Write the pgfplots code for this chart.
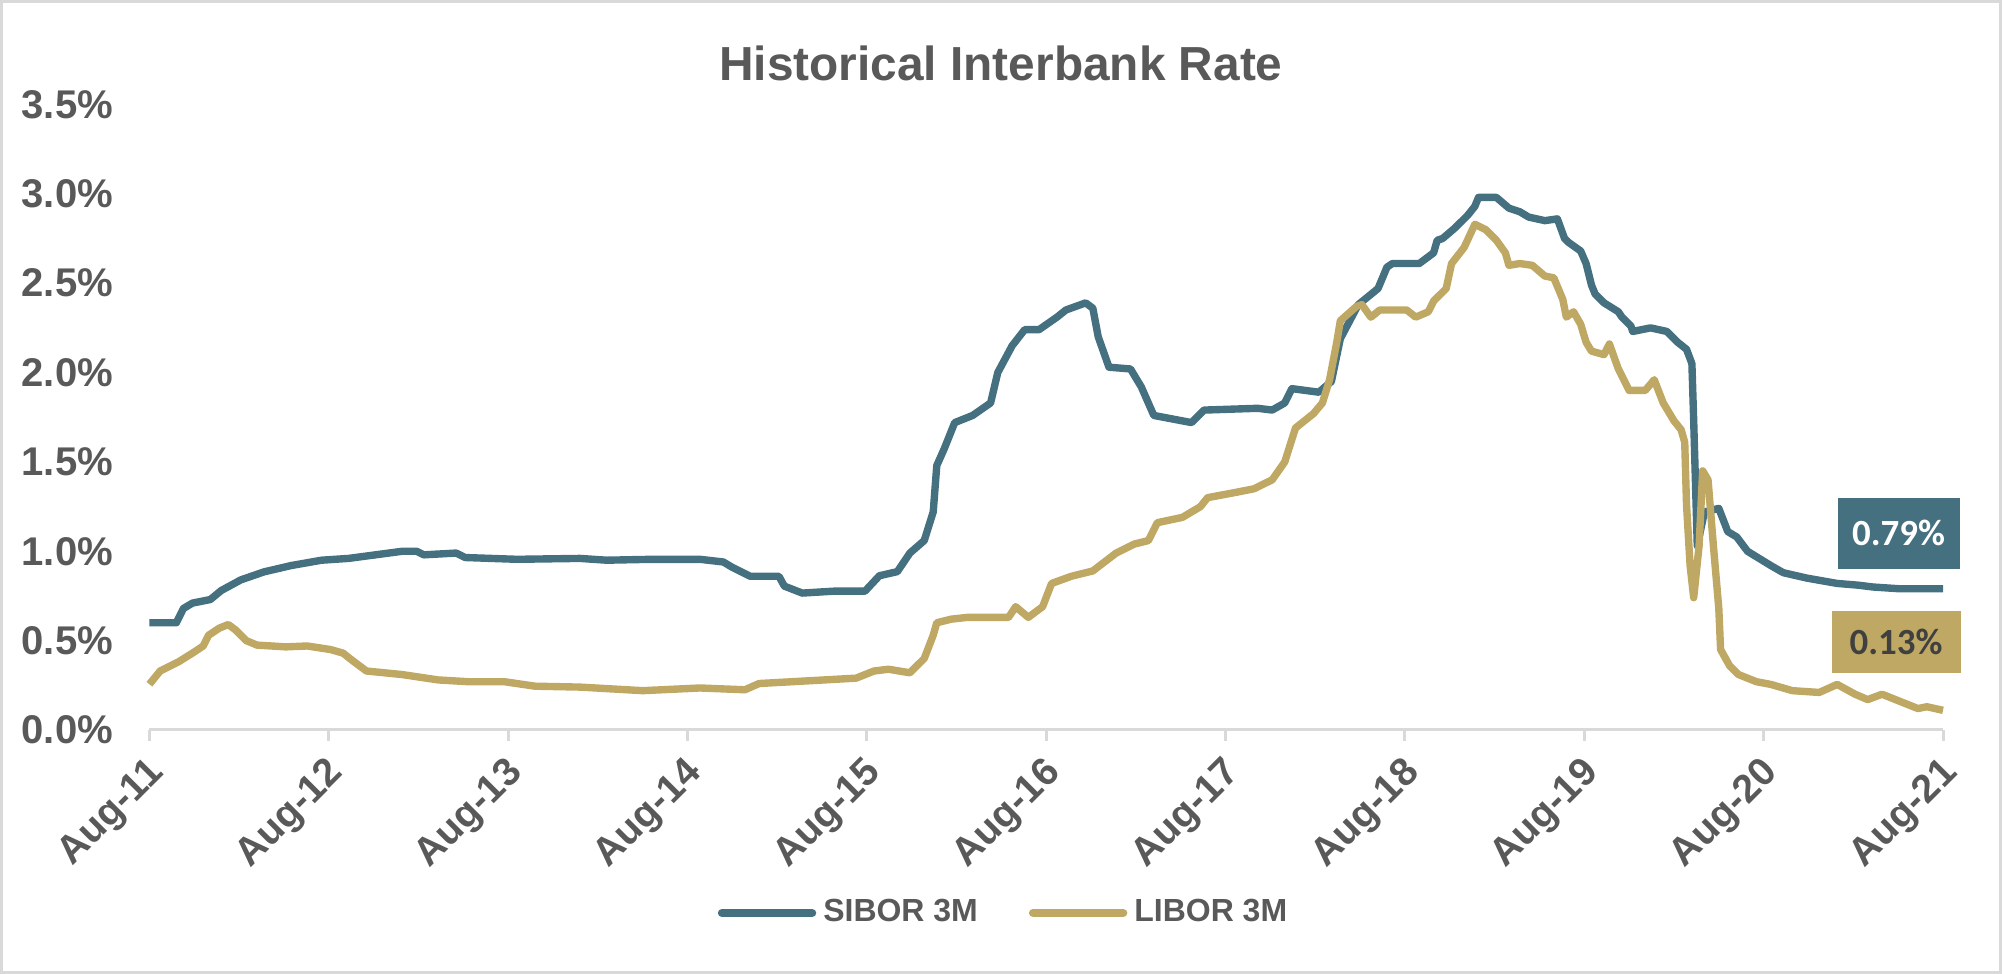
\documentclass[border=0pt]{standalone}
\usepackage{pgfplots}
\pgfplotsset{compat=1.18}
\usepackage{fontspec}
\setmainfont{Liberation Sans}
\newfontfamily\carlito{Carlito}
\definecolor{sibor}{RGB}{68,112,128}
\definecolor{libor}{RGB}{191,168,99}
\definecolor{txtgray}{RGB}{89,89,89}
\definecolor{axgray}{RGB}{217,217,217}
\definecolor{darktxt}{RGB}{64,64,64}

\pgfplotstableread{
t v
0 0.60
0.15 0.60
0.19 0.68
0.24 0.71
0.34 0.73
0.40 0.78
0.51 0.84
0.64 0.885
0.79 0.92
0.96 0.95
1.11 0.96
1.26 0.98
1.41 1.00
1.49 1.00
1.53 0.98
1.71 0.99
1.76 0.965
2.05 0.955
2.40 0.96
2.55 0.95
2.80 0.955
3.07 0.955
3.20 0.94
3.25 0.91
3.35 0.86
3.51 0.86
3.54 0.805
3.64 0.766
3.82 0.777
3.99 0.777
4.07 0.863
4.17 0.886
4.24 0.99
4.32 1.06
4.37 1.22
4.39 1.48
4.43 1.57
4.49 1.72
4.59 1.76
4.69 1.83
4.73 2.00
4.81 2.15
4.88 2.24
4.96 2.24
5.06 2.31
5.11 2.35
5.22 2.39
5.26 2.36
5.29 2.20
5.35 2.03
5.47 2.02
5.53 1.92
5.60 1.76
5.81 1.72
5.88 1.79
6.18 1.80
6.26 1.79
6.33 1.83
6.37 1.91
6.52 1.89
6.59 1.95
6.64 2.19
6.74 2.38
6.85 2.47
6.90 2.59
6.93 2.61
7.08 2.61
7.16 2.67
7.18 2.74
7.21 2.75
7.28 2.81
7.35 2.88
7.39 2.93
7.41 2.98
7.51 2.98
7.58 2.92
7.64 2.90
7.69 2.87
7.78 2.85
7.85 2.86
7.89 2.75
7.91 2.73
7.98 2.68
8.01 2.61
8.04 2.49
8.06 2.44
8.11 2.39
8.19 2.34
8.21 2.31
8.26 2.26
8.27 2.23
8.37 2.25
8.46 2.23
8.52 2.17
8.57 2.13
8.60 2.05
8.61 1.73
8.62 1.38
8.63 1.03
8.67 1.22
8.75 1.24
8.80 1.11
8.85 1.08
8.91 1.00
9.04 0.92
9.11 0.88
9.24 0.85
9.41 0.82
9.53 0.81
9.61 0.80
9.76 0.79
10.0 0.79
}\sibortable

\pgfplotstableread{
t v
0 0.256
0.06 0.33
0.16 0.38
0.24 0.43
0.30 0.47
0.33 0.53
0.39 0.57
0.44 0.59
0.48 0.56
0.54 0.50
0.60 0.475
0.76 0.465
0.88 0.47
1.01 0.45
1.08 0.43
1.13 0.39
1.21 0.33
1.41 0.31
1.61 0.28
1.78 0.27
1.98 0.27
2.15 0.245
2.40 0.24
2.75 0.22
3.07 0.235
3.32 0.225
3.40 0.26
3.69 0.276
3.94 0.29
4.04 0.33
4.12 0.34
4.24 0.32
4.32 0.40
4.37 0.53
4.39 0.60
4.47 0.62
4.56 0.63
4.79 0.63
4.83 0.69
4.90 0.63
4.98 0.69
5.03 0.82
5.14 0.86
5.26 0.89
5.39 0.99
5.49 1.04
5.57 1.06
5.62 1.16
5.76 1.19
5.86 1.25
5.90 1.30
6.06 1.33
6.16 1.35
6.26 1.40
6.33 1.50
6.39 1.69
6.49 1.77
6.54 1.83
6.58 1.96
6.62 2.17
6.64 2.29
6.73 2.37
6.76 2.38
6.81 2.31
6.86 2.35
7.01 2.35
7.06 2.31
7.13 2.34
7.16 2.40
7.23 2.47
7.26 2.61
7.33 2.70
7.39 2.83
7.45 2.80
7.51 2.74
7.56 2.67
7.58 2.60
7.64 2.61
7.71 2.60
7.78 2.54
7.83 2.53
7.88 2.41
7.90 2.31
7.94 2.34
7.98 2.27
8.01 2.17
8.04 2.12
8.11 2.10
8.14 2.16
8.19 2.02
8.25 1.90
8.34 1.90
8.39 1.96
8.44 1.83
8.50 1.73
8.54 1.68
8.56 1.61
8.57 1.26
8.59 0.92
8.61 0.74
8.64 1.03
8.66 1.45
8.69 1.40
8.72 1.03
8.75 0.68
8.76 0.45
8.81 0.36
8.86 0.31
8.96 0.27
9.04 0.255
9.16 0.22
9.31 0.21
9.41 0.255
9.51 0.20
9.58 0.17
9.66 0.20
9.76 0.16
9.86 0.12
9.91 0.13
10.0 0.11
}\libortable

\begin{document}
\begin{tikzpicture}
\useasboundingbox (0,0) rectangle (200.2mm,97.4mm);
\draw[axgray, line width=0.3mm] (0.15mm,0.15mm) rectangle (200.05mm,97.25mm);
\node[anchor=base, font=\fontsize{13.6}{16}\selectfont\bfseries, text=txtgray] at (100.1mm,89.3mm) {Historical Interbank Rate};
\begin{axis}[
  at={(14.94mm,24.4mm)}, anchor=south west,
  scale only axis, width=179.36mm, height=62.55mm,
  xmin=0, xmax=10, ymin=0, ymax=3.5,
  axis x line*=bottom, axis y line*=left,
  x axis line style={axgray, line width=0.3mm},
  y axis line style={draw=none},
  tick align=outside,
  xtick={0,1,2,3,4,5,6,7,8,9,10},
  xticklabels={Aug-11,Aug-12,Aug-13,Aug-14,Aug-15,Aug-16,Aug-17,Aug-18,Aug-19,Aug-20,Aug-21},
  major tick length=1.1mm,
  xtick style={axgray, line width=0.3mm},
  ytick={0,0.5,1,1.5,2,2.5,3,3.5},
  yticklabels={0.0\%,0.5\%,1.0\%,1.5\%,2.0\%,2.5\%,3.0\%,3.5\%},
  ytick style={draw=none},
  yticklabel style={font=\fontsize{11.4}{13}\selectfont\bfseries, text=txtgray, xshift=-1.3mm},
  xticklabel style={font=\fontsize{11.2}{13}\selectfont\bfseries, text=txtgray, rotate=45, anchor=east, yshift=-2.5mm},
  clip=false,
  legend columns=2,
  legend style={at={(0.4776,-0.2926)}, anchor=center, draw=none, fill=none,
    font=\fontsize{9.1}{11}\selectfont\bfseries, text=txtgray,
    /tikz/every even column/.append style={column sep=4.4mm}},
  legend image code/.code={\draw[#1, line width=2.4pt, line cap=round] (0mm,0mm) -- (9.0mm,0mm);},
]
\addplot[sibor, line width=2.1pt, line join=round, no marks] table[x=t, y=v] {\sibortable};
\addlegendentry{SIBOR 3M}
\addplot[libor, line width=2.1pt, line join=round, no marks] table[x=t, y=v] {\libortable};
\addlegendentry{LIBOR 3M}
\node[fill=sibor, text=white, minimum width=12.2mm, minimum height=7.1mm, inner sep=0pt,
  font=\carlito\bfseries\fontsize{10.5}{12}\selectfont] at (axis cs:9.752,1.10) {0.79\%};
\node[fill=libor, text=darktxt, minimum width=12.9mm, minimum height=6.2mm, inner sep=0pt,
  font=\carlito\bfseries\fontsize{10.5}{12}\selectfont] at (axis cs:9.738,0.49) {0.13\%};
\end{axis}
\end{tikzpicture}
\end{document}
